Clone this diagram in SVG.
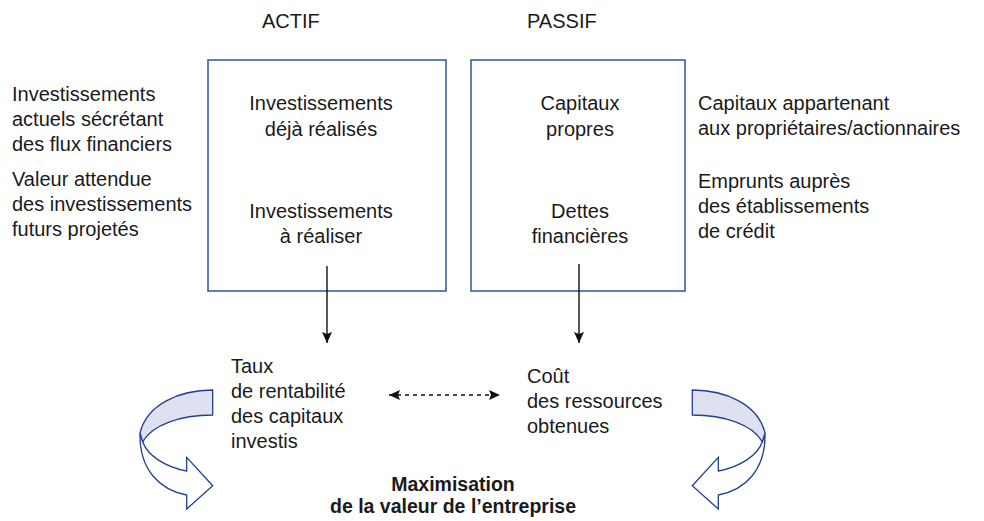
<svg xmlns="http://www.w3.org/2000/svg" width="984" height="521" viewBox="0 0 984 521">
<defs>
<style>
text{font-family:"Liberation Sans",Arial,sans-serif;font-size:20px;fill:#1a1a1a}
.c{text-anchor:middle}
.b{font-weight:bold;font-size:19.5px}
.box{fill:none;stroke:#3d5cab;stroke-width:1.6}
.ln{stroke:#111;stroke-width:1.4;fill:none}
.dash{stroke-dasharray:4 4}
.cv{stroke:#203f95;stroke-width:1.3;stroke-linejoin:miter}
</style>
<marker id="ah" viewBox="0 0 12 10" refX="11" refY="5" markerWidth="12" markerHeight="10" markerUnits="userSpaceOnUse" orient="auto-start-reverse">
<path d="M0,0 L11,5 L0,10 L2,5 z" fill="#111"/>
</marker>
<g id="curl">
<path class="cv" fill="#ffffff" d="M142.7,441.7 C147,455 165,467 186.7,471 L186.7,457.3 L212.7,485.7 L186.7,509 L186.7,495 C160,490 139,470 140,433 Z"/>
<path class="cv" fill="#dfe0f0" d="M212.7,390 C180,390 147,404 140,433 L142.7,441.7 C152,425 180,415 212.7,415 Z"/>
</g>
</defs>
<rect width="984" height="521" fill="#ffffff"/>

<g id="headers">
<text x="262" y="28">ACTIF</text>
<text x="527" y="28">PASSIF</text>
</g>

<g id="actif-notes">
<text x="12" y="101">Investissements</text>
<text x="12" y="126">actuels sécrétant</text>
<text x="12" y="151">des flux financiers</text>
<text x="12" y="186">Valeur attendue</text>
<text x="12" y="211">des investissements</text>
<text x="12" y="236">futurs projetés</text>
</g>

<g id="actif-box">
<rect class="box" x="208" y="60" width="238" height="231"/>
<text class="c" x="321" y="110">Investissements</text>
<text class="c" x="321" y="136">déjà réalisés</text>
<text class="c" x="321" y="218">Investissements</text>
<text class="c" x="321" y="243">à réaliser</text>
</g>

<g id="passif-box">
<rect class="box" x="471" y="60" width="214" height="231"/>
<text class="c" x="580" y="110">Capitaux</text>
<text class="c" x="580" y="136">propres</text>
<text class="c" x="580" y="218">Dettes</text>
<text class="c" x="580" y="243">financières</text>
</g>

<g id="passif-notes">
<text x="698" y="110">Capitaux appartenant</text>
<text x="698" y="135">aux propriétaires/actionnaires</text>
<text x="698" y="188">Emprunts auprès</text>
<text x="698" y="213">des établissements</text>
<text x="698" y="238">de crédit</text>
</g>

<g id="rentabilite">
<text x="231" y="373">Taux</text>
<text x="231" y="398">de rentabilité</text>
<text x="231" y="423">des capitaux</text>
<text x="231" y="448">investis</text>
</g>

<g id="cout">
<text x="527" y="383">Coût</text>
<text x="527" y="408">des ressources</text>
<text x="527" y="433">obtenues</text>
</g>

<g id="maximisation">
<text class="c b" x="453" y="491">Maximisation</text>
<text class="c b" x="453" y="513">de la valeur de l’entreprise</text>
</g>

<g id="connectors">
<line class="ln" x1="327" y1="266" x2="327" y2="343" marker-end="url(#ah)"/>
<line class="ln" x1="579" y1="264" x2="579" y2="343" marker-end="url(#ah)"/>
<line class="ln dash" x1="389" y1="395" x2="500" y2="395" marker-start="url(#ah)" marker-end="url(#ah)"/>
<use href="#curl"/>
<use href="#curl" transform="translate(905,0) scale(-1,1)"/>
</g>
</svg>
